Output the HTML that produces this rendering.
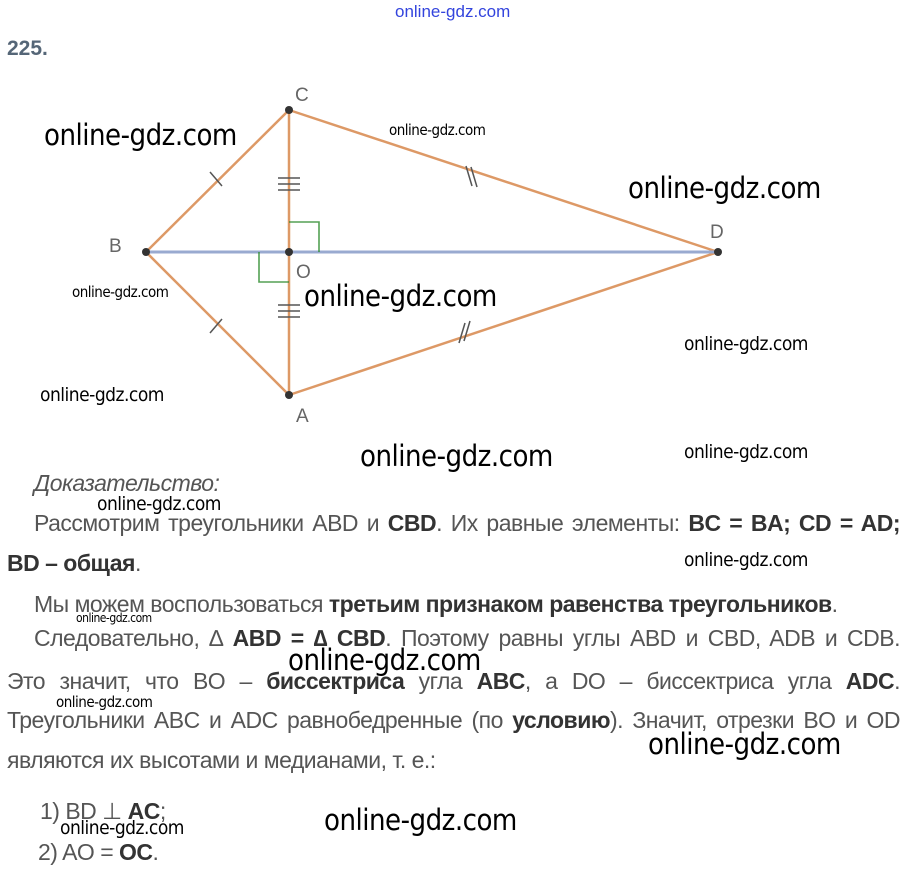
<!DOCTYPE html>
<html><head><meta charset="utf-8"><style>
body{margin:0;width:912px;height:891px;background:#fff;position:relative;overflow:hidden;font-family:"Liberation Sans",sans-serif}
.a{position:absolute;white-space:nowrap}
.w{position:absolute;white-space:nowrap;color:#000;font-family:"DejaVu Sans Condensed","DejaVu Sans",sans-serif;font-stretch:condensed;letter-spacing:-0.5px}
.L{font-size:29px}.S{font-size:15px}.M{font-size:19px}
.t{position:absolute;white-space:nowrap;color:#555;font-size:23px;letter-spacing:-0.5px;line-height:26px}
.j{text-align:justify;text-align-last:justify;white-space:normal}
b{color:#333}
</style></head><body>
<div class="a" style="left:395px;top:2px;color:#3344dd;font-size:17px">online-gdz.com</div>
<div class="a" style="left:7px;top:37px;color:#556677;font-size:21px;font-weight:bold">225.</div>
<svg class="a" style="left:0;top:0" width="912" height="460">
<g stroke="#dd9966" stroke-width="2.5" fill="none">
<line x1="289" y1="110" x2="146" y2="252"/><line x1="146" y1="252" x2="289" y2="395"/>
<line x1="289" y1="110" x2="718" y2="252"/><line x1="289" y1="395" x2="718" y2="252"/>
<line x1="289" y1="110" x2="289" y2="395"/>
</g>
<line x1="146" y1="252" x2="718" y2="252" stroke="#99aad0" stroke-width="3"/>
<g stroke="#2a8a2a" stroke-width="1.6" fill="none" opacity="0.8">
<polyline points="289,222 319,222 319,252"/><polyline points="289,282 259,282 259,252"/>
</g>
<g stroke="#555" stroke-width="1.5">
<line x1="210" y1="172" x2="222" y2="186"/><line x1="210" y1="333" x2="222" y2="319"/>
<line x1="278" y1="178" x2="300" y2="178"/><line x1="278" y1="184" x2="300" y2="184"/><line x1="278" y1="190" x2="300" y2="190"/>
<line x1="278" y1="305" x2="300" y2="305"/><line x1="278" y1="311" x2="300" y2="311"/><line x1="278" y1="317" x2="300" y2="317"/>
<line x1="466" y1="166" x2="472" y2="186"/><line x1="471" y1="167" x2="477" y2="187"/>
<line x1="459" y1="343" x2="465" y2="323"/><line x1="464" y1="341" x2="470" y2="321"/>
</g>
<g fill="#333"><circle cx="289" cy="110" r="4"/><circle cx="146" cy="252" r="4"/><circle cx="289" cy="252" r="4"/><circle cx="718" cy="252" r="4"/><circle cx="289" cy="395" r="4"/></g>
<g fill="#666" font-size="19" font-family="Liberation Sans"><text x="295" y="101">C</text><text x="109" y="252">B</text><text x="296" y="278">O</text><text x="710" y="238">D</text><text x="296" y="422">A</text></g>
</svg>
<div class="w L" style="left:44px;top:118px">online-gdz.com</div>
<div class="w" style="left:389px;top:121px;font-size:15px">online-gdz.com</div>
<div class="w L" style="left:628px;top:171px">online-gdz.com</div>
<div class="w S" style="left:72px;top:283px">online-gdz.com</div>
<div class="w L" style="left:304px;top:279px">online-gdz.com</div>
<div class="w M" style="left:684px;top:333px">online-gdz.com</div>
<div class="w M" style="left:40px;top:384px">online-gdz.com</div>
<div class="w L" style="left:360px;top:439px">online-gdz.com</div>
<div class="w M" style="left:684px;top:441px">online-gdz.com</div>

<div class="t" style="left:34px;top:470px;font-style:italic">Доказательство:</div>
<div class="w M" style="left:97px;top:493px">online-gdz.com</div>
<div class="t j" style="left:34px;top:510px;width:866px">Рассмотрим треугольники ABD и <b>CBD</b>. Их равные элементы: <b>BC = BA; CD = AD;</b></div>
<div class="t" style="left:7px;top:550px"><b>BD – общая</b>.</div>
<div class="w M" style="left:684px;top:549px">online-gdz.com</div>
<div class="t" style="left:34px;top:591px">Мы можем воспользоваться <b>третьим признаком равенства треугольников</b>.</div>
<div class="w" style="left:76px;top:611px;font-size:12px">online-gdz.com</div>
<div class="t j" style="left:34px;top:625px;width:866px">Следовательно, ∆ <b>ABD = ∆ CBD</b>. Поэтому равны углы ABD и CBD, ADB и CDB.</div>
<div class="w L" style="left:288px;top:643px">online-gdz.com</div>
<div class="t j" style="left:7px;top:668px;width:893px">Это значит, что BO – <b>биссектриса</b> угла <b>ABC</b>, а DO – биссектриса угла <b>ADC</b>.</div>
<div class="w S" style="left:56px;top:693px">online-gdz.com</div>
<div class="t j" style="left:7px;top:707px;width:893px">Треугольники ABC и ADC равнобедренные (по <b>условию</b>). Значит, отрезки BO и OD</div>
<div class="w L" style="left:648px;top:727px">online-gdz.com</div>
<div class="t" style="left:7px;top:747px">являются их высотами и медианами, т. е.:</div>
<div class="t" style="left:40px;top:798px">1) BD ⊥ <b>AC</b>;</div>
<div class="w M" style="left:60px;top:817px">online-gdz.com</div>
<div class="w L" style="left:324px;top:803px">online-gdz.com</div>
<div class="t" style="left:38px;top:839px">2) AO = <b>OC</b>.</div>
</body></html>
